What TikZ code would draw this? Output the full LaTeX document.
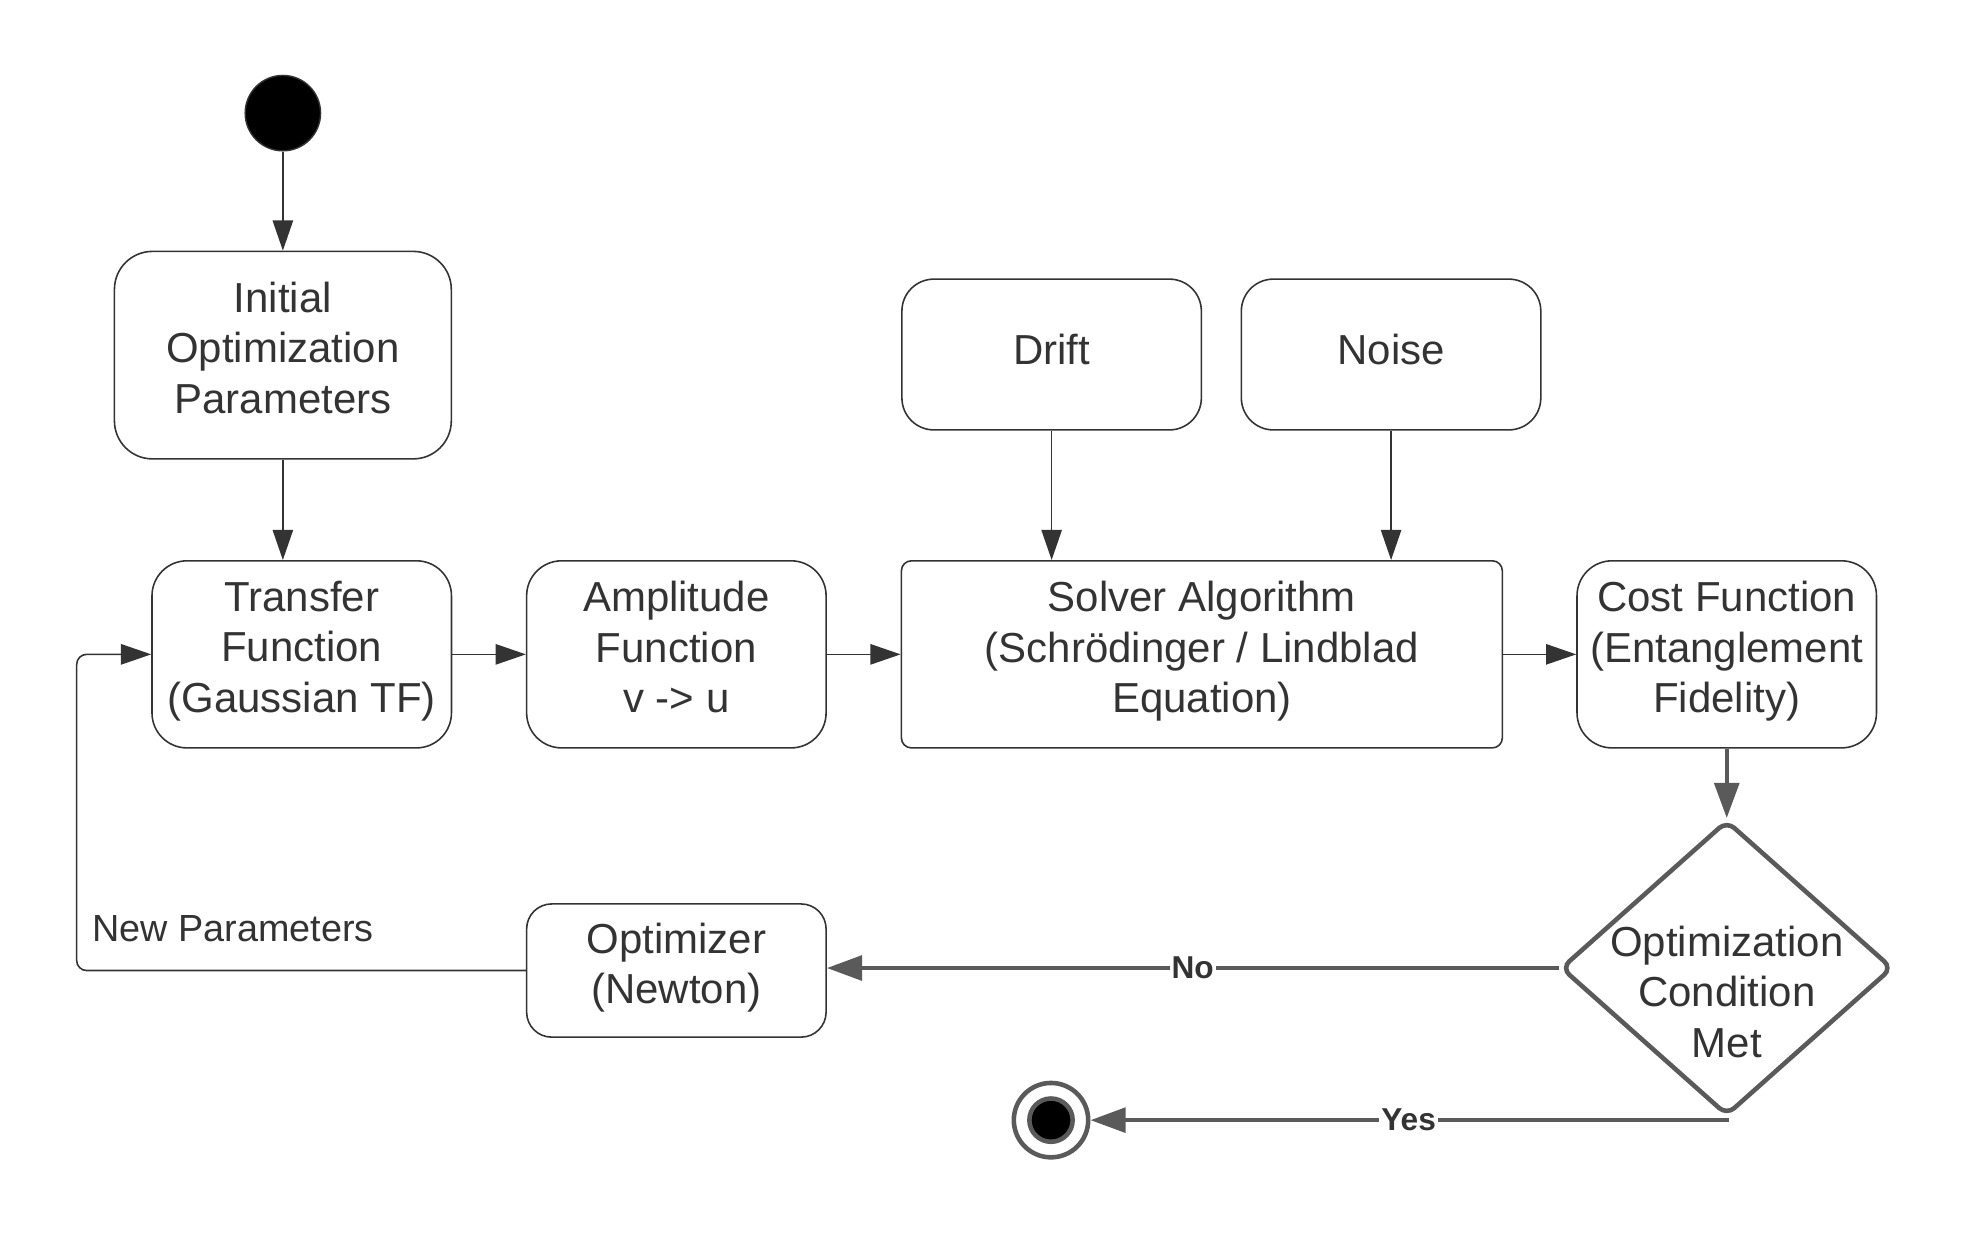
\documentclass[tikz,border=0pt]{standalone}
\usepackage{fontspec}
\setmainfont{Liberation Sans}
\usetikzlibrary{shapes.geometric,arrows.meta}
\usepackage{xcolor}
\definecolor{ink}{HTML}{333333}
\definecolor{greyline}{HTML}{5A5A5A}

\tikzset{
  state/.style={draw=ink, line width=0.45pt, rounded corners=0.35cm, text=ink, align=center,
    inner sep=0pt, minimum width=2.995cm, minimum height=1.871cm, font=\fontsize{11.94}{14.33}\selectfont,
    execute at begin node=\strut, execute at end node=\strut},
  flow/.style={draw=ink, line width=0.45pt, -{Triangle[length=8.6pt,width=5.8pt]}},
  flowgrey/.style={draw=greyline, line width=1.2pt, -{Triangle[length=10pt,width=7pt]}},
  edgelabel/.style={fill=white, inner sep=0.6pt, text=ink, font=\fontsize{9}{10}\selectfont\bfseries},
}

\begin{document}
\begin{tikzpicture}[x=0.012572cm, y=-0.012572cm] %positions read off in pixels
\useasboundingbox (0,0) rectangle (1567.8,981.9);

\node[circle, fill=black, draw=ink, minimum size=0.754cm, inner sep=0pt] (start) at (225,90) {};
\node[state, minimum width=3.369cm, minimum height=2.075cm, rounded corners=0.38cm] (init) at (225,282.5) {Initial\\Optimization\\Parameters};
\node[state] (tf) at (240,520.5) {Transfer\\Function\\(Gaussian TF)};
\node[state] (amp) at (538,520.5) {Amplitude\\Function\\v -> u};
\node[state, minimum width=6.01cm, rounded corners=0.1cm] (solver) at (956,520.5) {Solver Algorithm\\(Schrödinger / Lindblad\\Equation)};
\node[state] (cost) at (1373.5,520.5) {Cost Function\\(Entanglement\\Fidelity)};
\node[state, minimum height=1.508cm, rounded corners=0.32cm] (drift) at (836.5,282) {Drift};
\node[state, minimum height=1.508cm, rounded corners=0.32cm] (noise) at (1106.5,282) {Noise};
\node[state, minimum height=1.332cm, rounded corners=0.25cm] (opt) at (538,772) {Optimizer\\(Newton)};
\node[diamond, draw=greyline, line width=1.3pt, rounded corners=0.1cm, minimum width=3.319cm, minimum height=2.954cm, inner sep=0pt] (cond) at (1373.5,770) {};
\node[text=ink, align=center, inner sep=0pt, font=\fontsize{11.94}{14.33}\selectfont] (condtext) at ([yshift=-0.239cm]cond.center) {Optimization\\Condition\\Met};
\node[circle, draw=greyline, line width=1.3pt, minimum size=0.744cm, inner sep=0pt] (end) at (836,891) {};
\node[circle, draw=greyline, fill=black, line width=1.3pt, minimum size=0.433cm, inner sep=0pt] (endcore) at (end) {};
\node[anchor=west, inner sep=0pt, text=ink, font=\fontsize{10.75}{13}\selectfont] (newpar) at (73,739) {New Parameters};
\coordinate (bend) at (61,772);

\draw[flow] (start) -- (init);
\draw[flow] (init.south) -- (init.south |- tf.north);
\draw[flow] (tf) -- (amp);
\draw[flow] (amp) -- (solver);
\draw[flow] (solver) -- (cost);
\draw[flow] (drift) -- (drift |- solver.north);
\draw[flow] (noise) -- (noise |- solver.north);
\draw[flowgrey] (cost) -- (cond);
\draw[flowgrey] (cond.west) -- node[edgelabel] {No} (cond.west -| opt.east);
\draw[flowgrey] (cond.south) |- node[edgelabel, pos=0.75] {Yes} (end);
\draw[flow, rounded corners=0.1cm] (opt.west) -- (bend) |- (tf.west);
\end{tikzpicture}
\end{document}
